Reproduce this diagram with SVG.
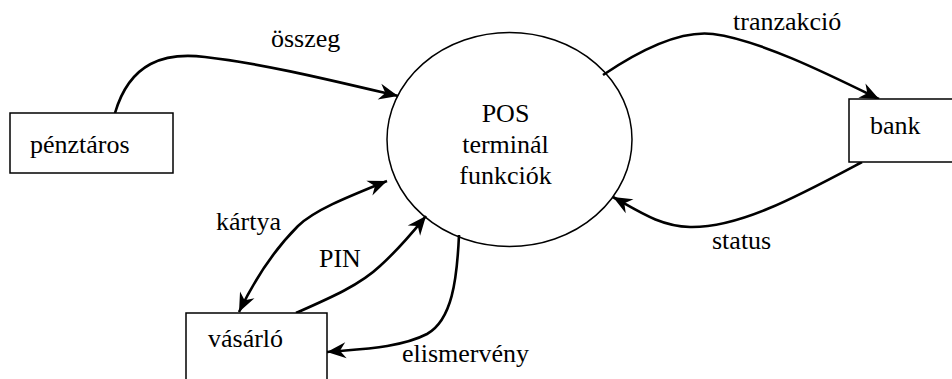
<svg xmlns="http://www.w3.org/2000/svg" width="952" height="379" viewBox="0 0 952 379">
<style>
.box{fill:#fff;stroke:#000;stroke-width:1.5}
.conn{fill:none;stroke:#000;stroke-width:2.6}
.t{font-family:'Liberation Serif','Times New Roman',serif;font-size:26px;fill:#000}
</style>
<defs>
<marker id="ah" markerUnits="userSpaceOnUse" markerWidth="24" markerHeight="20" refX="0" refY="0" viewBox="-20 -10 24 20" orient="auto-start-reverse">
<path d="M0,0 L-19,-8 L-13,0 L-19,8 Z" fill="#000"/>
</marker>
</defs>
<rect width="952" height="379" fill="#fff"/>
<g id="connectors">
<path class="conn" d="M115,113 C130,62 165,52 205,57 C260,63 330,80 398,96" marker-end="url(#ah)"/>
<path class="conn" d="M603,75 C640,50 680,30 713,34 C760,40 830,75 879,99" marker-end="url(#ah)"/>
<path class="conn" d="M862,162 C800,195 740,228 690,227 C660,226 640,212 613,197" marker-end="url(#ah)"/>
<path class="conn" d="M387,181 C345,198 315,210 298,226 C272,252 252,285 239,312" marker-start="url(#ah)" marker-end="url(#ah)"/>
<path class="conn" d="M296,313 C330,298 360,285 380,266 C400,248 412,233 426,216" marker-end="url(#ah)"/>
<path class="conn" d="M459,235 C457,280 452,320 427,334 C400,348 360,349 327,352" marker-end="url(#ah)"/>
</g>
<g id="pos">
<ellipse cx="509.5" cy="139.5" rx="122.5" ry="107" fill="none" stroke="#000" stroke-width="1.5"/>
<text class="t" x="505.5" y="122" text-anchor="middle">POS</text>
<text class="t" x="505.5" y="153" text-anchor="middle">terminál</text>
<text class="t" x="505.5" y="184" text-anchor="middle">funkciók</text>
</g>
<g id="penztaros">
<rect class="box" x="10" y="113" width="163" height="60"/>
<text class="t" x="30" y="153">pénztáros</text>
</g>
<g id="bank">
<rect class="box" x="849" y="99" width="110" height="63"/>
<text class="t" x="870" y="134">bank</text>
</g>
<g id="vasarlo">
<rect class="box" x="186" y="313" width="141" height="80"/>
<text class="t" x="208" y="347">vásárló</text>
</g>
<g id="labels">
<text class="t" x="271" y="47">összeg</text>
<text class="t" x="733" y="30">tranzakció</text>
<text class="t" x="712" y="249">status</text>
<text class="t" x="216" y="230">kártya</text>
<text class="t" x="319" y="267">PIN</text>
<text class="t" x="402" y="362">elismervény</text>
</g>
</svg>
